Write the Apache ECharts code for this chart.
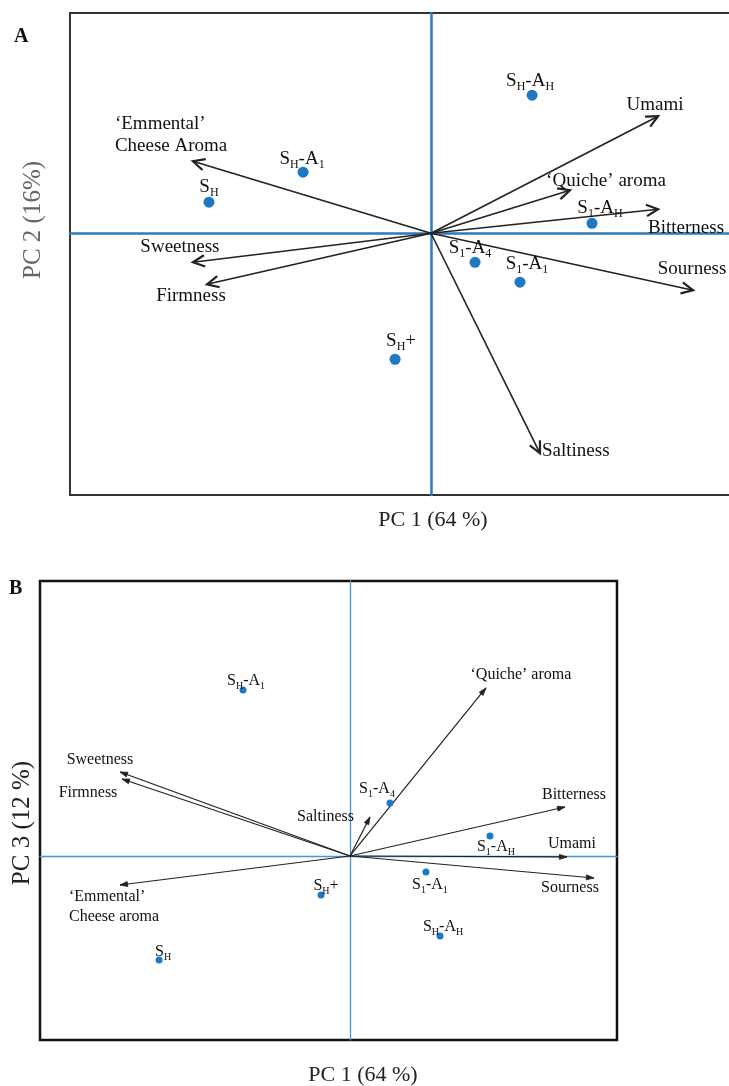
<!DOCTYPE html>
<html><head><meta charset="utf-8">
<script src="https://cdn.jsdelivr.net/npm/echarts@6/dist/echarts.min.js"></script>
<style>html,body{margin:0;padding:0;background:#fff}#c{width:729px;height:1086px}</style>
</head><body><div id="c"></div>
<script>
// ---------- Panel A : PC1 vs PC2 ----------
const attributesA = ["‘Emmental’\nCheese Aroma", "Sweetness", "Firmness", "Umami", "‘Quiche’ aroma", "Bitterness", "Sourness", "Saltiness"];
const loadPC1A = [-1.319, -1.319, -1.241, 1.258, 0.770, 1.258, 1.452, 0.604];
const loadPC2A = [0.399, -0.161, -0.283, 0.648, 0.238, 0.133, -0.316, -1.219];
const samplesA = ["S_H-A_H", "S_H-A_1", "S_H", "S_1-A_H", "S_1-A_4", "S_1-A_1", "S_H+"];
const scorePC1A = [0.560, -0.709, -1.230, 0.892, 0.244, 0.493, -0.199];
const scorePC2A = [0.765, 0.338, 0.172, 0.055, -0.161, -0.271, -0.698];

// ---------- Panel B : PC1 vs PC3 ----------
const attributesB = ["‘Quiche’ aroma", "Sweetness", "Firmness", "Bitterness", "Saltiness", "Umami", "Sourness", "‘Emmental’\nCheese aroma"];
const loadPC1B = [0.877, -1.484, -1.471, 1.387, 0.129, 1.400, 1.574, -1.484];
const loadPC3B = [1.084, 0.542, 0.497, 0.316, 0.252, -0.006, -0.142, -0.187];
const samplesB = ["S_H-A_1", "S_1-A_4", "S_1-A_H", "S_1-A_1", "S_H+", "S_H-A_H", "S_H"];
const scorePC1B = [-0.690, 0.258, 0.903, 0.490, -0.187, 0.581, -1.232];
const scorePC3B = [1.071, 0.342, 0.129, -0.103, -0.252, -0.516, -0.671];

// ---------- layout (label placement, px offsets) ----------
const arrowLabelPlaceA = [[-78, -26, 'left'], [-13, -15], [-16, 12], [-3, -11], [36, -9], [28, 19], [-1, -21], [2, -2, 'left']];
const arrowLabelPlaceB = [[35, -13], [-20, -12], [-34, 14], [9, -12], [-16, 0, 'right'], [5, -13], [-24, 10], [-51, 22, 'left']];
const pointLabelPlaceA = [[-2, -13], [-1, -12], [0, -14], [8, -14], [-5, -13], [7, -17], [6, -17]];
const pointLabelPlaceB = [[3, -8], [-13, -13], [6, 12], [4, 14], [5, -8], [3, -8], [4, -7]];

const SERIF = "'Liberation Serif', 'Times New Roman', serif";
const BLUE = '#2a7cc0';
const DOT = '#1f78c4';

function toRich(name) {
  let out = '';
  name.split(/(_\w)/).forEach(p => {
    if (!p) return;
    if (p[0] === '_') out += '{s|' + p[1] + '}';
    else out += '{n|' + p + '}';
  });
  return out;
}

function arrowRenderer(cfg, labels, place) {
  return function (params, api) {
    const o = api.coord([0, 0]);
    const t = api.coord([api.value(0), api.value(1)]);
    const a = Math.atan2(t[1] - o[1], t[0] - o[0]);
    const L = cfg.head, th = cfg.angle;
    const h1 = [t[0] - L * Math.cos(a - th), t[1] - L * Math.sin(a - th)];
    const h2 = [t[0] - L * Math.cos(a + th), t[1] - L * Math.sin(a + th)];
    const pl = place[params.dataIndex];
    const head = cfg.filled
      ? { type: 'polygon', shape: { points: [h1, t, h2] }, style: { fill: cfg.color, stroke: cfg.color, lineWidth: 0.8 } }
      : { type: 'polyline', shape: { points: [h1, t, h2] }, style: { stroke: cfg.color, lineWidth: cfg.headLw, fill: 'none' } };
    return {
      type: 'group',
      children: [
        { type: 'line', shape: { x1: o[0], y1: o[1], x2: t[0], y2: t[1] }, style: { stroke: cfg.color, lineWidth: cfg.lw, fill: 'none' } },
        head,
        { type: 'text', x: t[0] + pl[0], y: t[1] + pl[1],
          style: { text: labels[params.dataIndex], fill: '#111', fontSize: cfg.fs, fontFamily: SERIF,
                   align: pl[2] || 'center', verticalAlign: 'middle', lineHeight: cfg.lh } }
      ]
    };
  };
}

function scatterData(names, xs, ys, place) {
  return names.map((n, i) => ({ name: n, value: [xs[i], ys[i]], label: { offset: place[i] } }));
}

const chart = echarts.init(document.getElementById('c'), null, { renderer: 'canvas' });

const hiddenAxis = (min, max, gridIndex, color, width) => ({
  type: 'value', min, max, gridIndex,
  axisLine: { show: true, onZero: true, lineStyle: { color, width } },
  axisTick: { show: false }, axisLabel: { show: false }, splitLine: { show: false }
});

chart.setOption({
  animation: false,
  backgroundColor: '#fff',
  grid: [
    { left: 70, top: 13, width: 722, height: 482, show: true, borderColor: '#333', borderWidth: 2, backgroundColor: 'transparent', containLabel: false, outerBoundsMode: 'none' },
    { left: 40, top: 581, width: 577, height: 459, show: true, borderColor: '#111', borderWidth: 2.5, backgroundColor: 'transparent', containLabel: false, outerBoundsMode: 'none' }
  ],
  xAxis: [hiddenAxis(-2, 2, 0, BLUE, 2.5), hiddenAxis(-2, 1.7226, 1, '#4a94d4', 1.3)],
  yAxis: [hiddenAxis(-1.45, 1.22, 0, BLUE, 2.5), hiddenAxis(-1.187, 1.774, 1, '#4a94d4', 1.3)],
  graphic: [
    { type: 'text', x: 14, y: 37, style: { text: 'A', fontSize: 20, fontWeight: 'bold', fontFamily: SERIF, fill: '#111', verticalAlign: 'middle' } },
    { type: 'text', x: 9, y: 589, style: { text: 'B', fontSize: 20, fontWeight: 'bold', fontFamily: SERIF, fill: '#111', verticalAlign: 'middle' } },
    { type: 'text', x: 433, y: 520, style: { text: 'PC 1 (64 %)', fontSize: 22, fontFamily: SERIF, fill: '#222', align: 'center', verticalAlign: 'middle' } },
    { type: 'text', x: 363, y: 1075, style: { text: 'PC 1 (64 %)', fontSize: 22, fontFamily: SERIF, fill: '#222', align: 'center', verticalAlign: 'middle' } },
    { type: 'text', x: 33, y: 220, rotation: Math.PI / 2, style: { text: 'PC 2 (16%)', fontSize: 25, fontFamily: SERIF, fill: '#666', align: 'center', verticalAlign: 'middle' } },
    { type: 'text', x: 22, y: 823, rotation: Math.PI / 2, style: { text: 'PC 3 (12 %)', fontSize: 25, fontFamily: SERIF, fill: '#222', align: 'center', verticalAlign: 'middle' } }
  ],
  series: [
    {
      type: 'custom', xAxisIndex: 0, yAxisIndex: 0, z: 3,
      renderItem: arrowRenderer({ color: '#222', lw: 1.6, head: 13, angle: 0.45, headLw: 2.2, filled: false, fs: 19, lh: 22 }, attributesA, arrowLabelPlaceA),
      data: loadPC1A.map((x, i) => [x, loadPC2A[i]])
    },
    {
      type: 'scatter', xAxisIndex: 0, yAxisIndex: 0, z: 4,
      symbolSize: 11, itemStyle: { color: DOT, opacity: 1 },
      label: {
        show: true, position: 'inside', formatter: p => toRich(p.name),
        rich: {
          n: { fontSize: 19, fontFamily: SERIF, color: '#111', lineHeight: 22, verticalAlign: 'top' },
          s: { fontSize: 12, fontFamily: SERIF, color: '#111', lineHeight: 12, padding: [11, 0, 0, 0], verticalAlign: 'bottom' }
        }
      },
      data: scatterData(samplesA, scorePC1A, scorePC2A, pointLabelPlaceA)
    },
    {
      type: 'custom', xAxisIndex: 1, yAxisIndex: 1, z: 3,
      renderItem: arrowRenderer({ color: '#222', lw: 1.2, head: 8, angle: 0.32, headLw: 1.2, filled: true, fs: 16, lh: 20 }, attributesB, arrowLabelPlaceB),
      data: loadPC1B.map((x, i) => [x, loadPC3B[i]])
    },
    {
      type: 'scatter', xAxisIndex: 1, yAxisIndex: 1, z: 4,
      symbolSize: 7, itemStyle: { color: DOT, opacity: 1 },
      label: {
        show: true, position: 'inside', formatter: p => toRich(p.name),
        rich: {
          n: { fontSize: 16, fontFamily: SERIF, color: '#111', lineHeight: 19, verticalAlign: 'top' },
          s: { fontSize: 10, fontFamily: SERIF, color: '#111', lineHeight: 10, padding: [10, 0, 0, 0], verticalAlign: 'bottom' }
        }
      },
      data: scatterData(samplesB, scorePC1B, scorePC3B, pointLabelPlaceB)
    }
  ]
});
</script>
</body></html>
